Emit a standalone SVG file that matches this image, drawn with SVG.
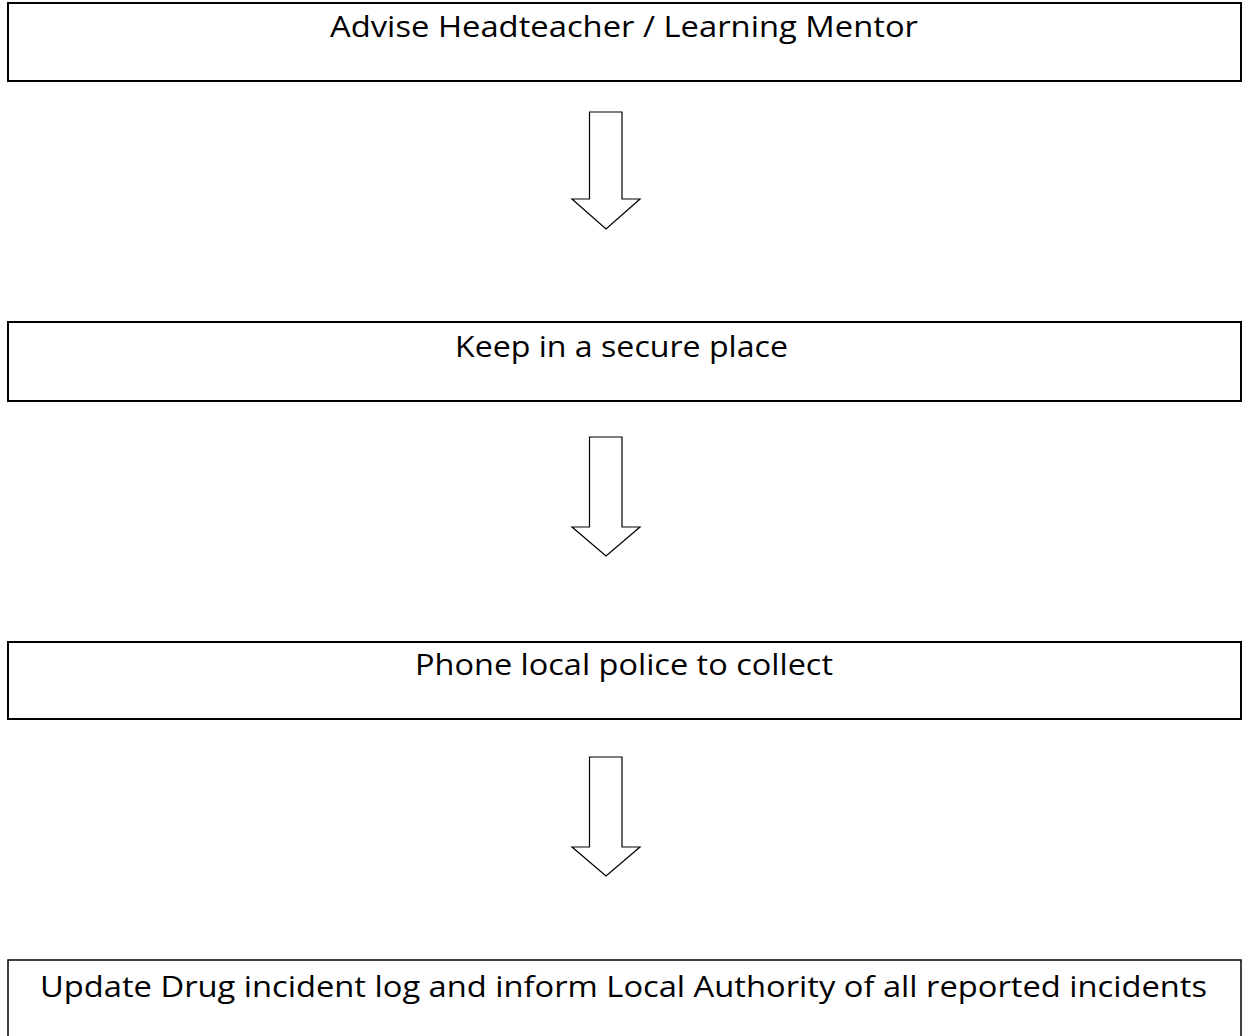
<svg xmlns="http://www.w3.org/2000/svg" width="1242" height="1036" viewBox="0 0 1242 1036">
<style>
.box{fill:#fff;stroke:#000;stroke-width:2}
.box4{fill:#fff;stroke:#000;stroke-width:1.5}
.lbl{font-family:"Open Sans","Liberation Sans",sans-serif;font-size:29px;fill:#000}
.arr{fill:#fff;stroke:#000;stroke-width:1.2;stroke-linejoin:miter}
</style>
<rect width="1242" height="1036" fill="#fff"/>
<g id="connectors">
<path class="arr" d="M589.5,112 H622 V199 H640 L606,229 L572,199 H589.5 Z"/>
<path class="arr" d="M589.5,437 H622 V527 H640 L606,556 L572,527 H589.5 Z"/>
<path class="arr" d="M589.5,757 H622 V847 H640 L606,876 L572,847 H589.5 Z"/>
</g>
<g id="node1">
<rect class="box" x="8" y="3" width="1233" height="78"/>
<text class="lbl" x="330" y="37" textLength="588" lengthAdjust="spacingAndGlyphs">Advise Headteacher / Learning Mentor</text>
</g>
<g id="node2">
<rect class="box" x="8" y="322" width="1233" height="79"/>
<text class="lbl" x="455" y="357" textLength="333" lengthAdjust="spacingAndGlyphs">Keep in a secure place</text>
</g>
<g id="node3">
<rect class="box" x="8" y="642" width="1233" height="77"/>
<text class="lbl" x="415" y="675" textLength="418" lengthAdjust="spacingAndGlyphs">Phone local police to collect</text>
</g>
<g id="node4">
<rect class="box4" x="8" y="960" width="1233" height="90"/>
<text class="lbl" x="40" y="997" textLength="1167" lengthAdjust="spacingAndGlyphs">Update Drug incident log and inform Local Authority of all reported incidents</text>
</g>
</svg>
